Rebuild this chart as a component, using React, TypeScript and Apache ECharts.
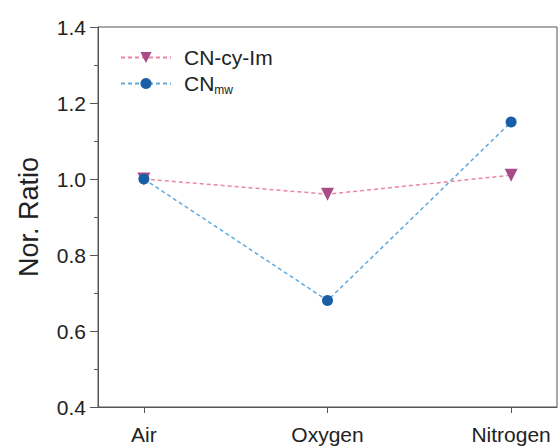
import React, { useEffect, useRef } from "react";
import * as echarts from "echarts";

const categories = ["Air", "Oxygen", "Nitrogen"];
const cyImValues = [1.0, 0.96, 1.01];
const mwValues = [1.0, 0.68, 1.15];
const yTicks = [0.4, 0.6, 0.8, 1.0, 1.2, 1.4];

export default function App() {
  const ref = useRef<HTMLDivElement>(null);
  useEffect(() => {
    if (!ref.current) return;
    const chart = echarts.init(ref.current, undefined, { renderer: "svg" });
    const font = "Liberation Sans, Arial, sans-serif";
    const axisColor = "#555";
    const idx = categories.map((_, i) => i);
    chart.setOption({
      animation: false,
      backgroundColor: "#fff",
      grid: {
        left: 98,
        right: 1,
        top: 27,
        bottom: 41,
        show: true,
        borderColor: axisColor,
        borderWidth: 1,
        containLabel: false,
      },
      legend: {
        left: 115,
        top: 42,
        orient: "vertical",
        itemWidth: 50,
        itemHeight: 14,
        itemGap: 5,
        textStyle: {
          fontFamily: font,
          fontSize: 21,
          color: "#222",
          rich: {
            sub: { fontFamily: font, fontSize: 12, color: "#222", verticalAlign: "bottom", padding: [12, 0, 0, 0] },
            main: { fontFamily: font, fontSize: 21, color: "#222", padding: [0, 0, 0, 8] },
          },
        },
        formatter: (name: string) => (name === "CNmw" ? "{main|CN}{sub|mw}" : "{main|" + name + "}"),
        data: ["CN-cy-Im", "CNmw"],
      },
      xAxis: {
        type: "value",
        min: -0.25,
        max: 2.25,
        splitLine: { show: false },
        axisLine: { show: true, onZero: false, lineStyle: { color: axisColor, width: 1 } },
        axisTick: { show: true, customValues: idx, length: 6, inside: false, lineStyle: { color: axisColor } },
        axisLabel: {
          customValues: idx,
          formatter: (v: number) => categories[Math.round(v)] ?? "",
          fontFamily: font,
          fontSize: 21,
          color: "#222",
          margin: 17,
        },
      },
      yAxis: {
        type: "value",
        min: yTicks[0],
        max: yTicks[yTicks.length - 1],
        interval: 0.2,
        name: "Nor. Ratio",
        nameLocation: "middle",
        nameGap: 56,
        nameTextStyle: { fontFamily: font, fontSize: 27, color: "#222" },
        splitLine: { show: false },
        axisLine: { show: true, onZero: false, lineStyle: { color: axisColor, width: 1 } },
        axisTick: { show: true, length: 8, lineStyle: { color: axisColor } },
        minorTick: { show: true, splitNumber: 2, length: 4, lineStyle: { color: axisColor } },
        axisLabel: {
          formatter: (v: number) => v.toFixed(1),
          fontFamily: font,
          fontSize: 21,
          color: "#222",
          margin: 12,
        },
      },
      series: [
        {
          name: "CN-cy-Im",
          type: "line",
          data: cyImValues.map((v, i) => [i, v]),
          symbol: "triangle",
          symbolRotate: 180,
          symbolSize: 13,
          itemStyle: { color: "#a84b88" },
          lineStyle: { color: "#ea86a0", type: [4, 3], width: 1.5 },
          z: 2,
        },
        {
          name: "CNmw",
          type: "line",
          data: mwValues.map((v, i) => [i, v]),
          symbol: "circle",
          symbolSize: 11,
          itemStyle: { color: "#1a5ea8" },
          lineStyle: { color: "#5eaade", type: [4, 3], width: 1.5 },
          z: 3,
        },
      ],
    });
    return () => chart.dispose();
  }, []);
  return (
    <div
      ref={ref}
      style={{ position: "fixed", left: 0, top: 0, width: 558, height: 448 }}
    />
  );
}
